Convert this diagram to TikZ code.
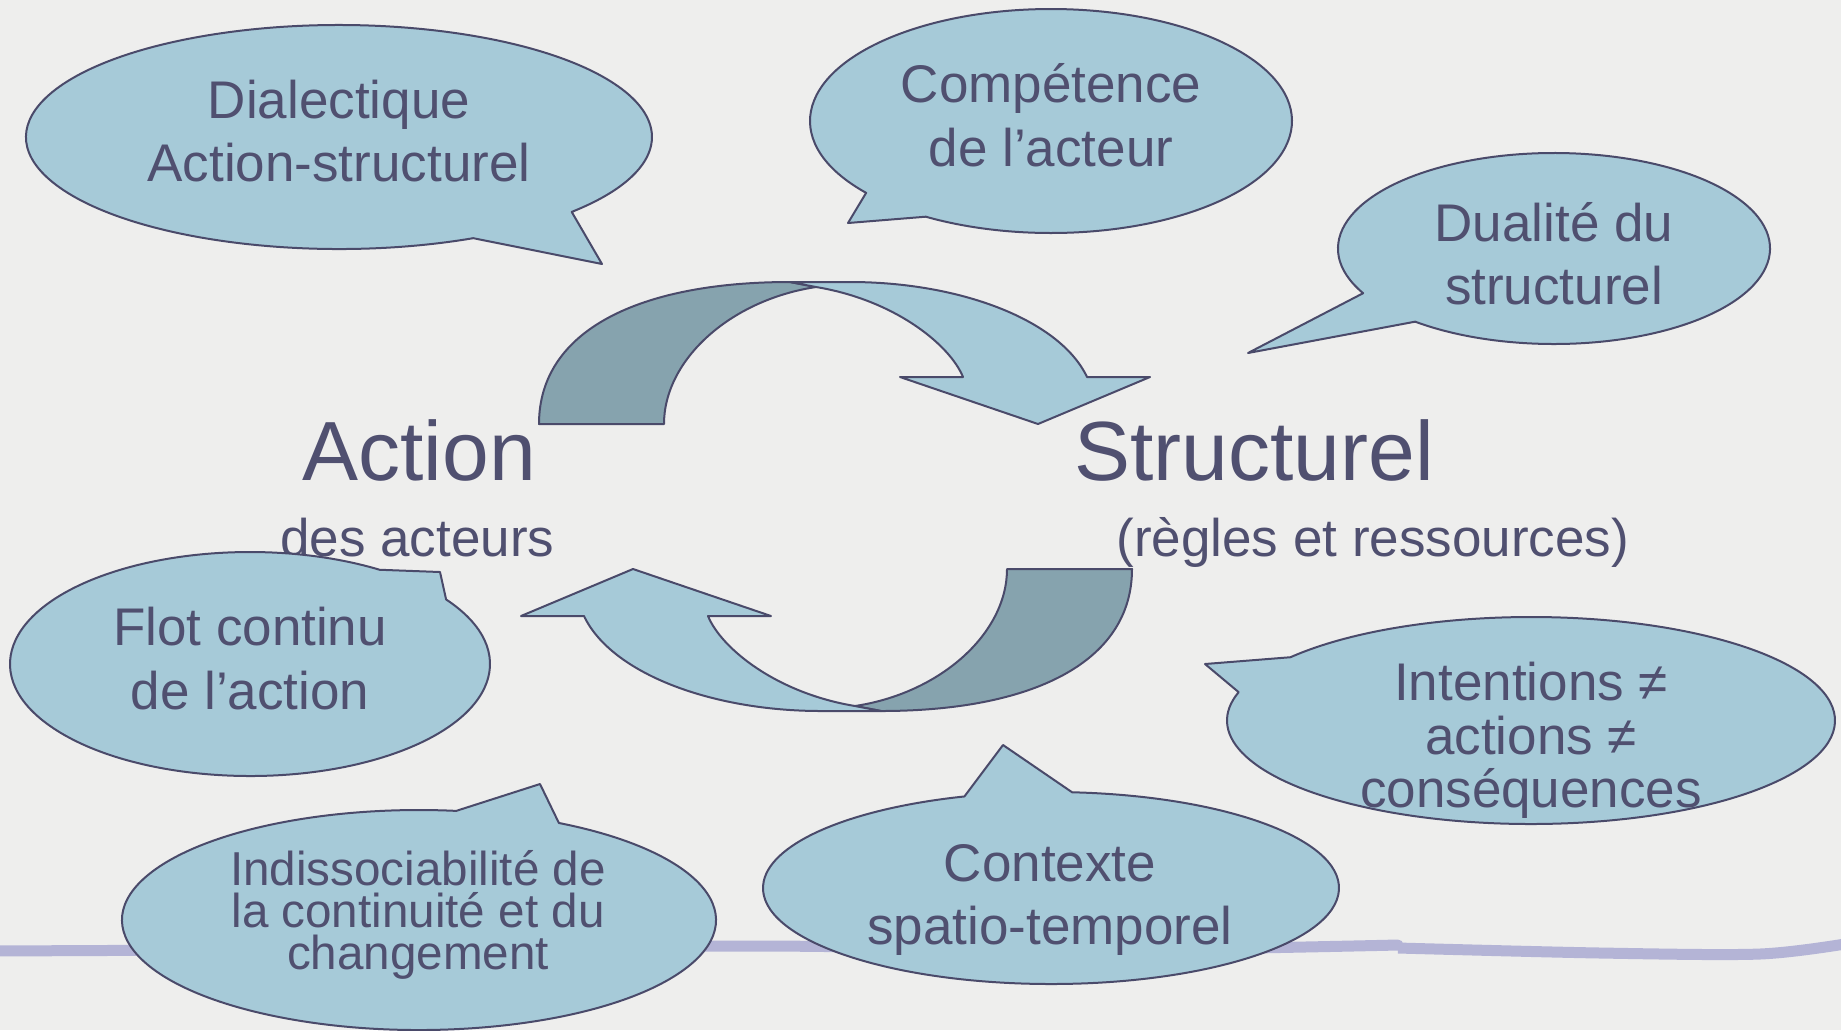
\documentclass[tikz,border=0pt]{standalone}
\usepackage{fontspec}
\setmainfont{Liberation Sans}
\usetikzlibrary{calc}
\definecolor{bg}{RGB}{238,238,237}
\definecolor{bub}{RGB}{166,202,216}
\definecolor{darkband}{RGB}{134,163,174}
\definecolor{edge}{RGB}{74,74,106}
\definecolor{txt}{RGB}{80,80,112}
\definecolor{lav}{RGB}{180,180,214}
\tikzset{
  bubshape/.style={draw=edge, fill=bub, line width=1pt, line join=round},
  bandlight/.style={draw=edge, fill=bub, line width=1pt, line join=round},
  banddark/.style={draw=edge, fill=darkband, line width=1pt, line join=round},
  lbl/.style={text=txt, inner sep=0pt, anchor=base},
  bigtxt/.style={lbl, font=\fontsize{42pt}{50pt}\selectfont},
  midtxt/.style={lbl, font=\fontsize{26.5pt}{32pt}\selectfont},
  smalltxt/.style={lbl, font=\fontsize{23.8pt}{28pt}\selectfont},
}
\begin{document}
\begin{tikzpicture}[x=0.5pt, y=-0.5pt]
\useasboundingbox (0,0) rectangle (1841,1030);
\fill[bg] (0,0) rectangle (1841,1030);
% background lavender line
\draw[lav, line width=5.5pt, line cap=round] plot[smooth] coordinates {(-10,951) (400,949) (760,946) (1100,950) (1398,945)};
\draw[lav, line width=5.5pt] plot[smooth] coordinates {(1398,948) (1600,953) (1760,954) (1851,943)};
% top curved arrow
\begin{scope}
  \draw[banddark] (539,424) .. controls (539,330) and (640,282) .. (790,282)
     -- (816,287) .. controls (730,300) and (664,360) .. (664,424) -- cycle;
  \draw[bandlight] (790,282) -- (850,282) .. controls (960,282) and (1060,320) .. (1087,377)
     -- (1150,377) -- (1038,424) -- (900,377) -- (963,377)
     .. controls (950,345) and (895,300) .. (816,287) -- cycle;
\end{scope}
% bottom curved arrow (same shape turned half round)
\begin{scope}[rotate around={180:(835.5,496.5)}]
  \draw[banddark] (539,424) .. controls (539,330) and (640,282) .. (790,282)
     -- (816,287) .. controls (730,300) and (664,360) .. (664,424) -- cycle;
  \draw[bandlight] (790,282) -- (850,282) .. controls (960,282) and (1060,320) .. (1087,377)
     -- (1150,377) -- (1038,424) -- (900,377) -- (963,377)
     .. controls (950,345) and (895,300) .. (816,287) -- cycle;
\end{scope}
% central labels
\node[bigtxt, anchor=base west] (action) at (302,480) {Action};
\node[bigtxt, anchor=base west] (struct) at (1074,480) {Structurel};
\node[midtxt, anchor=base west] (acteurs) at (280,556) {des acteurs};
\node[midtxt, anchor=base west] (regles) at (1116,556) {(règles et ressources)};
% bubble: Dialectique
\draw[bubshape] ($(339,137)+(41.97:313 and 112)$) -- (602,264) -- ($(339,137)+(64.6:313 and 112)$)
   arc[start angle=64.6, end angle=401.97, x radius=313, y radius=112] -- cycle;
\node[midtxt] (dial1) at (339,118) {Dialectique};
\node[midtxt] (dial2) at (339,181) {Action-structurel};
% bubble: Compétence
\draw[bubshape] ($(1051,121)+(121.3:241 and 112)$) -- (848,223) -- ($(1051,121)+(140.1:241 and 112)$)
   arc[start angle=140.1, end angle=481.3, x radius=241, y radius=112] -- cycle;
\node[midtxt] (comp1) at (1051,102) {Compétence};
\node[midtxt] (comp2) at (1051,166) {de l’acteur};
% bubble: Dualité
\draw[bubshape] ($(1554,248.5)+(130:216 and 95.5)$) -- (1248,353) -- ($(1554,248.5)+(152.1:216 and 95.5)$)
   arc[start angle=152.1, end angle=490, x radius=216, y radius=95.5] -- cycle;
\node[midtxt] (dual1) at (1554,241) {Dualité du};
\node[midtxt] (dual2) at (1554,304) {structurel};
% bubble: Flot continu
\draw[bubshape] ($(250,664)+(302.7:240 and 112)$) -- (440,572) -- ($(250,664)+(324.8:240 and 112)$)
   arc[start angle=324.8, end angle=662.7, x radius=240, y radius=112] -- cycle;
\node[midtxt] (flot1) at (250,645) {Flot continu};
\node[midtxt] (flot2) at (250,709) {de l’action};
% bubble: Indissociabilité
\draw[bubshape] ($(419,920)+(277.2:297 and 110)$) -- (540,784) -- ($(419,920)+(298.1:297 and 110)$)
   arc[start angle=298.1, end angle=637.2, x radius=297, y radius=110] -- cycle;
\node[smalltxt] (ind1) at (418,885) {Indissociabilité de};
\node[smalltxt] (ind2) at (418,927) {la continuité et du};
\node[smalltxt] (ind3) at (418,969) {changement};
% bubble: Contexte
\draw[bubshape] ($(1051,888)+(252.5:288 and 96)$) -- (1003,745) -- ($(1051,888)+(274.2:288 and 96)$)
   arc[start angle=274.2, end angle=612.5, x radius=288, y radius=96] -- cycle;
\node[midtxt] (ctx1) at (1050,881) {Contexte};
\node[midtxt] (ctx2) at (1050,944) {spatio-temporel};
% bubble: Intentions
\draw[bubshape] ($(1531,720.5)+(195.9:304 and 103.5)$) -- (1205,664) -- ($(1531,720.5)+(217.7:304 and 103.5)$)
   arc[start angle=217.7, end angle=555.9, x radius=304, y radius=103.5] -- cycle;
\node[midtxt] (int1) at (1531,700) {Intentions ≠};
\node[midtxt] (int2) at (1531,754) {actions ≠};
\node[midtxt] (int3) at (1531,807) {conséquences};
\end{tikzpicture}
\end{document}
